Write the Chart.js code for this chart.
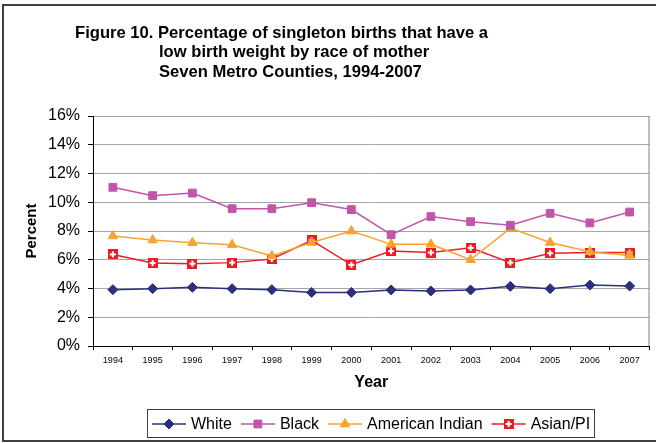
<!DOCTYPE html>
<html>
<head>
<meta charset="utf-8">
<script src="https://cdn.jsdelivr.net/npm/chart.js@4.4.1/dist/chart.umd.min.js"></script>
<style>
  body { margin: 0; background: #fff; }
  canvas { display: block; }
</style>
</head>
<body>
<canvas id="lbwChart" width="656" height="443"></canvas>
<script>
// Data
const years = ['1994', '1995', '1996', '1997', '1998', '1999', '2000', '2001', '2002', '2003', '2004', '2005', '2006', '2007'];
const white = [3.92, 3.99, 4.08, 3.99, 3.92, 3.73, 3.73, 3.90, 3.83, 3.90, 4.15, 3.99, 4.24, 4.17];
const black = [11.04, 10.46, 10.64, 9.55, 9.55, 9.97, 9.49, 7.74, 9.00, 8.65, 8.40, 9.23, 8.56, 9.32];
const americanIndian = [7.65, 7.37, 7.19, 7.05, 6.26, 7.20, 8.00, 7.07, 7.07, 6.00, 8.20, 7.20, 6.56, 6.30];
const asianPI = [6.37, 5.77, 5.73, 5.80, 6.05, 7.35, 5.65, 6.60, 6.50, 6.83, 5.80, 6.45, 6.50, 6.50];
const yTickLabels = ['0%', '2%', '4%', '6%', '8%', '10%', '12%', '14%', '16%'];
const titleLines = [
    'Figure 10. Percentage of singleton births that have a',
    'low birth weight by race of mother',
    'Seven Metro Counties, 1994-2007'
];

const FONT = '"Liberation Sans", Arial, sans-serif';
Chart.defaults.font.family = FONT;

// red square with a white cross, used for Asian/PI
function crossBox() {
    const c = document.createElement('canvas');
    c.width = 10; c.height = 10;
    const g = c.getContext('2d');
    g.fillStyle = '#ED1C24';
    g.fillRect(0, 0, 10, 10);
    g.fillStyle = '#fff';
    g.fillRect(2, 4, 6, 2);
    g.fillRect(4, 2, 2, 6);
    return c;
}

// frame, title, plot border and legend
const decor = {
    id: 'decor',
    beforeDraw(chart) {
        const ctx = chart.ctx;
        ctx.save();
        ctx.fillStyle = '#fff';
        ctx.fillRect(0, 0, chart.width, chart.height);
        ctx.strokeStyle = '#404040';
        ctx.lineWidth = 2;
        ctx.beginPath();
        ctx.moveTo(700, 5); ctx.lineTo(3, 5); ctx.lineTo(3, 441); ctx.lineTo(700, 441);
        ctx.stroke();

        ctx.fillStyle = '#000';
        ctx.font = 'bold 16.6px ' + FONT;
        ctx.textBaseline = 'alphabetic';
        ctx.fillText(titleLines[0], 75, 37.5);
        ctx.fillText(titleLines[1], 159, 57);
        ctx.fillText(titleLines[2], 159, 76.5);
        ctx.restore();
    },
    beforeDatasetsDraw(chart) {
        const {ctx, chartArea: a} = chart;
        ctx.save();
        ctx.strokeStyle = '#808080';
        ctx.lineWidth = 1;
        ctx.beginPath();
        ctx.moveTo(a.right - 0.5, a.top);
        ctx.lineTo(a.right - 0.5, a.bottom);
        ctx.stroke();
        ctx.restore();
    },
    afterDraw(chart) {
        const ctx = chart.ctx;
        ctx.save();
        ctx.strokeStyle = '#404040';
        ctx.lineWidth = 1;
        ctx.strokeRect(147.5, 409.5, 447, 28);
        ctx.font = '16px ' + FONT;
        ctx.textBaseline = 'middle';
        let x = 152;
        const y = 424;
        chart.data.datasets.forEach(ds => {
            ctx.strokeStyle = ds.borderColor;
            ctx.lineWidth = 1.5;
            ctx.beginPath();
            ctx.moveTo(x, y); ctx.lineTo(x + 34, y);
            ctx.stroke();
            ctx.fillStyle = ds.pointBackgroundColor;
            ctx.strokeStyle = ds.pointBorderColor;
            ctx.lineWidth = 1;
            Chart.helpers.drawPoint(ctx, {
                pointStyle: ds.pointStyle, radius: ds.pointRadius, rotation: 0, borderWidth: 1
            }, x + 17, y);
            ctx.fillStyle = '#000';
            ctx.fillText(ds.label, x + 39, y + 1);
            x += 39 + ctx.measureText(ds.label).width + 9;
        });
        ctx.restore();
    }
};

function series(label, data, color, style, radius) {
    return {
        label: label,
        data: data,
        borderColor: color,
        borderWidth: 1.5,
        pointStyle: style,
        pointRadius: radius,
        pointBackgroundColor: color,
        pointBorderColor: color,
        pointBorderWidth: 1,
        tension: 0
    };
}

new Chart(document.getElementById('lbwChart'), {
    type: 'line',
    data: {
        labels: years,
        datasets: [
            series('White', white, '#2B2F7E', 'rectRot', 5),
            series('Black', black, '#C055AA', 'rect', 5.5),
            series('American Indian', americanIndian, '#F9A22E', 'triangle', 5.5),
            series('Asian/PI', asianPI, '#ED1C24', crossBox(), 5)
        ]
    },
    options: {
        responsive: false,
        animation: false,
        layout: { padding: { top: 116, right: 6, bottom: 51, left: 10 } },
        plugins: { legend: { display: false }, tooltip: { enabled: false } },
        scales: {
            x: {
                offset: true,
                grid: { drawOnChartArea: false, offset: true, tickLength: 4, tickColor: '#000' },
                border: { color: '#000' },
                ticks: { font: { size: 9 }, color: '#000', padding: 5, maxRotation: 0, autoSkip: false },
                title: { display: true, text: 'Year', font: { size: 16, weight: 'bold' }, color: '#000', padding: 0 },
                afterFit: s => { s.height = 46; }
            },
            y: {
                min: 0,
                max: 16,
                ticks: { stepSize: 2, callback: (v, i) => yTickLabels[i], font: { size: 16 }, color: '#000', padding: 8 },
                grid: { color: '#A6A6A6', tickColor: '#000', tickLength: 5 },
                border: { color: '#000' },
                title: { display: true, text: 'Percent', font: { size: 15, weight: 'bold' }, color: '#000', padding: { top: 13, bottom: 0 } },
                afterFit: s => { s.width = 83; }
            }
        }
    },
    plugins: [decor]
});
</script>
</body>
</html>
